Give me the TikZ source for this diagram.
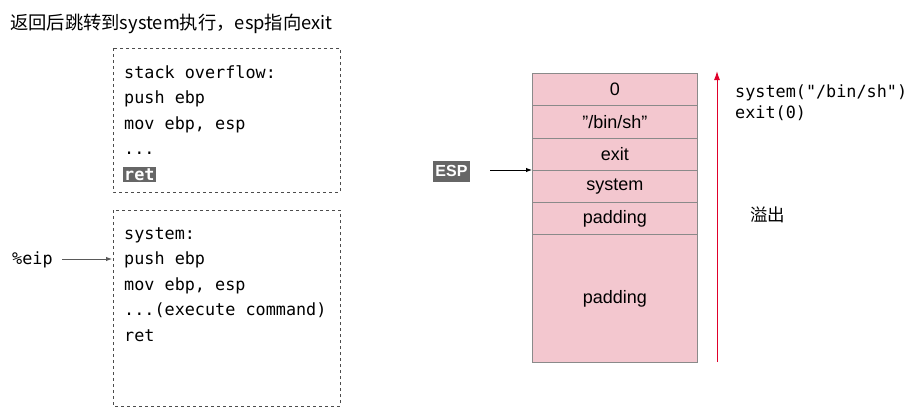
\documentclass[tikz,border=0pt]{standalone}
\usepackage{fontspec}
\setmainfont{Liberation Sans}
\setmonofont{DejaVu Sans Mono}
\newfontfamily\cjk{Noto Sans CJK SC}
\usetikzlibrary{arrows.meta}
\definecolor{stackpink}{HTML}{F3C7CF}
\definecolor{stackline}{HTML}{8A8A8A}
\definecolor{hlgray}{HTML}{666666}
\definecolor{overred}{HTML}{E0002A}
\tikzset{
  x=1pt, y=-1pt,
  codebox/.style={draw=black!70, dashed, line width=0.8pt},
  codeline/.style={anchor=base west, inner sep=0pt, font=\ttfamily\fontsize{16.8}{20}\selectfont},
  cell/.style={draw=stackline, fill=stackpink, line width=0.8pt, minimum width=165pt, inner sep=0pt, anchor=north west, font=\fontsize{18}{20}\selectfont},
  ptr/.style={-{Latex[length=6pt,width=4.5pt]}, line width=0.9pt}
}
\begin{document}
\begin{tikzpicture}
\useasboundingbox (0,0) rectangle (916,413);
% title
\node[anchor=base west, inner sep=0pt, font=\cjk\fontsize{18.3}{20}\selectfont] (title) at (10,29.5) {返回后跳转到system执行，esp指向exit};
% code boxes
\draw[codebox] (113,48) rectangle (340,192);
\draw[codebox] (113,210) rectangle (340,406);
\node[codeline] (a1) at (124,78) {stack overflow:};
\node[codeline] (a2) at (124,103.5) {push ebp};
\node[codeline] (a3) at (124,129) {mov ebp, esp};
\node[codeline] (a4) at (124,154.5) {...};
\node[codeline, fill=hlgray, text=white, inner sep=1.5pt, font=\ttfamily\bfseries\fontsize{16.8}{20}\selectfont] (a5) at (122.5,180) {ret};
\node[codeline] (b1) at (124,239) {system:};
\node[codeline] (b2) at (124,264.5) {push ebp};
\node[codeline] (b3) at (124,290) {mov ebp, esp};
\node[codeline] (b4) at (124,315.5) {...(execute command)};
\node[codeline] (b5) at (124,341) {ret};
% eip
\node[codeline] (eip) at (12,264.5) {\%eip};
\coordinate (eipend) at (112,259);
\draw[ptr, draw=black!65] (62,259) -- (eipend);
% stack
\node[cell, minimum height=32pt] (s0) at (532,73) {0};
\node[cell, minimum height=33pt] (s1) at (532,105) {\symbol{34}/bin/sh\symbol{34}};
\node[cell, minimum height=32pt] (s2) at (532,138) {exit};
\node[cell, minimum height=32pt] (s3) at (532,170) {system};
\node[cell, minimum height=32pt] (s4) at (532,202) {padding};
\node[cell, minimum height=128pt] (s5) at (532,234) {padding};
% ESP pointer
\node[fill=hlgray, text=white, font=\bfseries\fontsize{16}{18}\selectfont, inner sep=1.5pt, minimum width=37pt, minimum height=21pt] (esp) at (451.5,171) {ESP};
\draw[ptr] (490,170) -- (s3.north west);
% overflow arrow
\coordinate (ovb) at (717,362);
\coordinate (ovt) at (717,71);
\draw[-{Latex[length=9pt,width=6pt]}, draw=overred, line width=1pt] (ovb) -- (ovt);
\node[codeline] (c1) at (735,97) {system(\symbol{34}/bin/sh\symbol{34})};
\node[codeline] (c2) at (735,118) {exit(0)};
\node[anchor=base west, inner sep=0pt, font=\cjk\fontsize{17.5}{20}\selectfont] (ov) at (750,221) {溢出};
\end{tikzpicture}
\end{document}
